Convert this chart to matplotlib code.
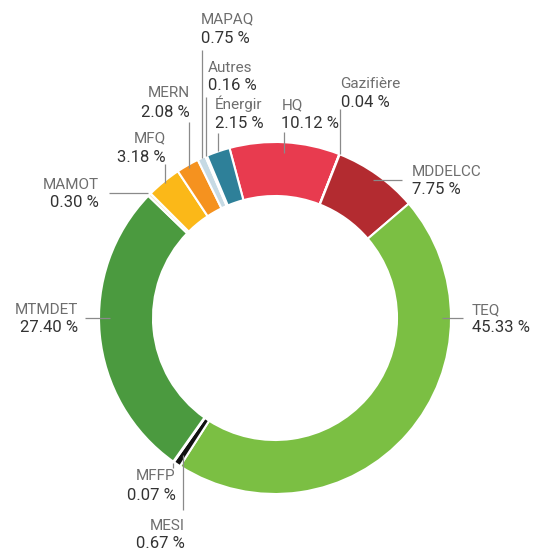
import numpy as np
import matplotlib.pyplot as plt

plt.rcParams['font.family'] = ['Roboto', 'DejaVu Sans']

# Répartition des sommes par organisme (%)
organismes = ['HQ', 'Gazifière', 'MDDELCC', 'TEQ', 'MESI', 'MFFP', 'MTMDET',
              'MAMOT', 'MFQ', 'MERN', 'MAPAQ', 'Autres', 'Énergir']
parts = [10.12, 0.04, 7.75, 45.33, 0.67, 0.07, 27.40,
         0.30, 3.18, 2.08, 0.75, 0.16, 2.15]
couleurs = ['#e83b4f', '#ece6de', '#b32b30', '#7bbf43', '#111111', '#ececec', '#4b9a3f',
            '#f3ebd2', '#fbb818', '#f5921f', '#c6dae4', '#e3ecf0', '#2e8099']

# géométrie (pixels)
W, H = 534, 552
CX, CY, R = 275, 318, 176


def to_data(px, py):
    return (px - CX) / R, (CY - py) / R


def to_px(x, y):
    return CX + x * R, CY - y * R


# placement des étiquettes
# 'haut'/'bas' : trait vertical ; 'cote' : trait horizontal
# (type, rayon ancre, angle imposé, fin du trait, x/dx texte, ligne nom, ligne %, alignement)
etiquettes = {
    'MAPAQ':     ('haut', 1.00, None, 50, -1, 23, 43, 'left'),
    'Autres':    ('haut', 1.00, None, 97, 2, 72, 90, 'left'),
    'Énergir':   ('haut', 1.00, None, 133, -3, 109, 128, 'left'),
    'HQ':        ('haut', 0.94, None, 132, -3, 109, 128, 'left'),
    'Gazifière': ('haut', 1.00, None, 109, 1, 88, 107, 'left'),
    'MERN':      ('haut', 0.98, None, 122, 0, 97, 117, 'right'),
    'MFQ':       ('haut', 0.99, None, 164, 1, 142, 162, 'right'),
    'MDDELCC':   ('cote', 0.96, None, 402, 412, None, None, 'left'),
    'TEQ':       ('cote', 0.95, 0.0, 463, 472, None, None, 'left'),
    'MTMDET':    ('cote', 0.94, 180.0, 85, 78, None, None, 'right'),
    'MAMOT':     ('cote', 1.01, None, 109, 99, None, None, 'right'),
    'MFFP':      ('bas', 1.01, None, 468, 3, 480, 500, 'right'),
    'MESI':      ('bas', 0.94, None, 510, 2, 530, 548, 'right'),
}

fig = plt.figure(figsize=(W / 100, H / 100), dpi=100)
ax = fig.add_axes([0, 0, 1, 1])

wedges, _ = ax.pie(parts, colors=couleurs, startangle=105, counterclock=False,
                   radius=1.0,
                   wedgeprops=dict(width=1 - 122 / R, edgecolor='white', linewidth=1.5))

gris_trait = '#8a8a8a'
gris_nom = '#6e6e6e'
gris_pct = '#333333'

for w, nom, val in zip(wedges, organismes, parts):
    typ, r, ang, fin, tx, nb, pb, ha = etiquettes[nom]
    if ang is None:
        ang = (w.theta1 + w.theta2) / 2
    a = np.deg2rad(ang)
    apx, apy = to_px(r * np.cos(a), r * np.sin(a))
    pct = f'{val:.2f} %'
    if typ in ('haut', 'bas'):
        x0, y0 = to_data(apx, apy)
        x1, y1 = to_data(apx, fin)
        ax.plot([x0, x1], [y0, y1], color=gris_trait, lw=0.9, solid_capstyle='butt')
        txt_x = apx + tx
    else:
        x0, y0 = to_data(apx, apy)
        x1, y1 = to_data(fin, apy)
        ax.plot([x0, x1], [y0, y1], color=gris_trait, lw=0.9, solid_capstyle='butt')
        txt_x = tx
        nb, pb = apy - 4, apy + 14
    ax.text(*to_data(txt_x, nb), nom, ha=ha, va='baseline', fontsize=11, color=gris_nom)
    ax.text(*to_data(txt_x, pb), pct, ha=ha, va='baseline', fontsize=12, color=gris_pct)

ax.set_xlim(-CX / R, (W - CX) / R)
ax.set_ylim(-(H - CY) / R, CY / R)
ax.set_aspect('equal', adjustable='box')
ax.axis('off')

fig.savefig('out.png', dpi=100, facecolor='white')
